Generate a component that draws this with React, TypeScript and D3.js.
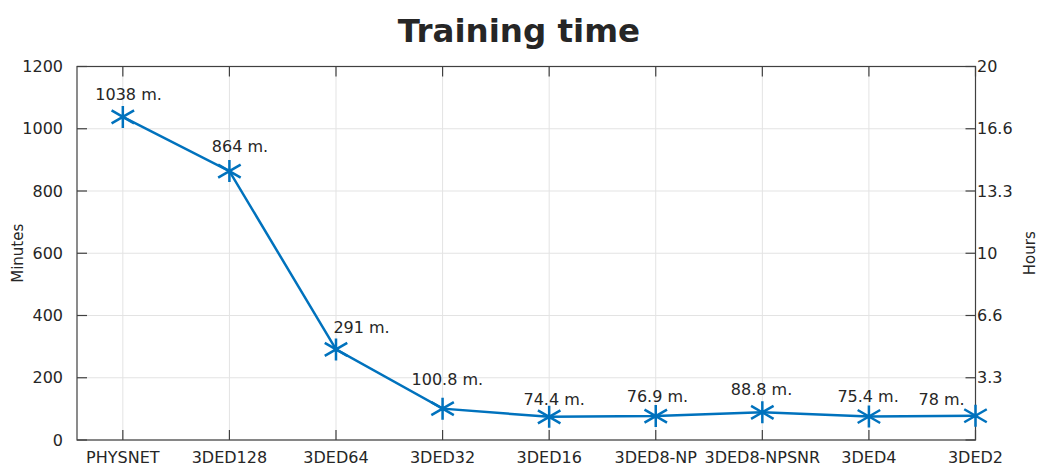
import React, { useEffect, useRef } from "react";
import * as d3 from "d3";

// data
const categories = [
  "PHYSNET",
  "3DED128",
  "3DED64",
  "3DED32",
  "3DED16",
  "3DED8-NP",
  "3DED8-NPSNR",
  "3DED4",
  "3DED2",
];
const minutes = [1038, 864, 291, 100.8, 74.4, 76.9, 88.8, 75.4, 78];
const pointLabels = ["1038 m.", "864 m.", "291 m.", "100.8 m.", "74.4 m.", "76.9 m.", "88.8 m.", "75.4 m.", "78 m."];
const minuteTicks = [0, 200, 400, 600, 800, 1000, 1200];
const hourTickLabels = ["3.3", "6.6", "10", "13.3", "16.6", "20"];

// label placement relative to each point (text start / baseline)
const labelOffsets: [number, number][] = [
  [-27.5, -17], [-17.6, -19], [-2.6, -16.6], [-31, -23.6], [-25.7, -11.8],
  [-29, -13.7], [-31.5, -17.4], [-31.5, -14.2], [-57, -10.7],
];

const W = 1038;
const H = 465;
const FONT = "'DejaVu Sans', Verdana, sans-serif";
const TXT = "#262626";
const AX = "#404040";
const BLUE = "#0072BD";

const App: React.FC = () => {
  const svgRef = useRef<SVGSVGElement>(null);

  useEffect(() => {
    if (!svgRef.current) return;
    const svg = d3.select(svgRef.current);
    svg.selectAll("*").remove();

    const left = 77, right = 975.5, top = 66.5, bottom = 440;

    const x = d3.scaleLinear().domain([0.57, 9]).range([left, right]);
    const y = d3.scaleLinear().domain([0, 1200]).range([bottom, top]);

    const g = svg.append("g");

    // grid
    g.selectAll(".vgrid")
      .data(categories)
      .enter().append("line")
      .attr("x1", (_, i) => x(i + 1)).attr("x2", (_, i) => x(i + 1))
      .attr("y1", top).attr("y2", bottom)
      .attr("stroke", "#e3e3e3").attr("stroke-width", 1);
    g.selectAll(".hgrid")
      .data(minuteTicks)
      .enter().append("line")
      .attr("x1", left).attr("x2", right)
      .attr("y1", d => y(d)).attr("y2", d => y(d))
      .attr("stroke", "#e3e3e3").attr("stroke-width", 1);

    // box
    g.append("rect")
      .attr("x", left).attr("y", top)
      .attr("width", right - left).attr("height", bottom - top)
      .attr("fill", "none").attr("stroke", AX).attr("stroke-width", 1.2);

    const tl = 10;
    // x ticks (bottom + top, inward)
    categories.forEach((_, i) => {
      const xx = x(i + 1);
      g.append("line").attr("x1", xx).attr("x2", xx).attr("y1", bottom).attr("y2", bottom - tl)
        .attr("stroke", AX).attr("stroke-width", 1.2);
      g.append("line").attr("x1", xx).attr("x2", xx).attr("y1", top).attr("y2", top + tl)
        .attr("stroke", AX).attr("stroke-width", 1.2);
    });
    // y ticks left and right
    minuteTicks.forEach(t => {
      g.append("line").attr("x1", left).attr("x2", left + tl).attr("y1", y(t)).attr("y2", y(t))
        .attr("stroke", AX).attr("stroke-width", 1.2);
      g.append("line").attr("x1", right).attr("x2", right - tl).attr("y1", y(t)).attr("y2", y(t))
        .attr("stroke", AX).attr("stroke-width", 1.2);
    });

    // x tick labels
    g.selectAll(".xl")
      .data(categories)
      .enter().append("text")
      .attr("x", (_, i) => x(i + 1))
      .attr("y", 463)
      .attr("text-anchor", "middle")
      .attr("font-family", FONT).attr("font-size", 16).attr("fill", TXT)
      .text(d => d);

    // left tick labels
    g.selectAll(".yl")
      .data(minuteTicks)
      .enter().append("text")
      .attr("x", 63)
      .attr("y", d => y(d) + 5.5)
      .attr("text-anchor", "end")
      .attr("font-family", FONT).attr("font-size", 16).attr("fill", TXT)
      .text(d => String(d));

    // right tick labels (hours)
    g.selectAll(".yr")
      .data(hourTickLabels)
      .enter().append("text")
      .attr("x", right + 1.5)
      .attr("y", (_, i) => y(minuteTicks[i + 1]) + 5.5)
      .attr("text-anchor", "start")
      .attr("font-family", FONT).attr("font-size", 16).attr("fill", TXT)
      .text(d => d);

    // axis titles
    g.append("text")
      .attr("transform", `translate(23,${(top + bottom) / 2}) rotate(-90)`)
      .attr("text-anchor", "middle")
      .attr("font-family", FONT).attr("font-size", 15).attr("fill", TXT)
      .text("Minutes");
    g.append("text")
      .attr("transform", `translate(1035,${(top + bottom) / 2}) rotate(-90)`)
      .attr("text-anchor", "middle")
      .attr("font-family", FONT).attr("font-size", 15).attr("fill", TXT)
      .text("Hours");

    // title
    g.append("text")
      .attr("x", 519).attr("y", 42)
      .attr("text-anchor", "middle")
      .attr("font-family", FONT).attr("font-size", 32.5).attr("font-weight", "bold")
      .attr("fill", TXT)
      .text("Training time");

    // line
    const line = d3.line<number>()
      .x((_, i) => x(i + 1))
      .y(d => y(d));
    g.append("path")
      .datum(minutes)
      .attr("d", line)
      .attr("fill", "none")
      .attr("stroke", BLUE)
      .attr("stroke-width", 2.5);

    // asterisk markers
    const armV = 11, armD = 13;
    const ca = Math.cos(Math.PI / 6), sa = Math.sin(Math.PI / 6);
    const star = `M0,${-armV}L0,${armV}` +
      `M${-armD * ca},${-armD * sa}L${armD * ca},${armD * sa}` +
      `M${-armD * ca},${armD * sa}L${armD * ca},${-armD * sa}`;
    g.selectAll(".mk")
      .data(minutes)
      .enter().append("path")
      .attr("transform", (d, i) => `translate(${x(i + 1)},${y(d)})`)
      .attr("d", star)
      .attr("fill", "none")
      .attr("stroke", BLUE)
      .attr("stroke-width", 2.5);

    // point labels
    g.selectAll(".pl")
      .data(minutes)
      .enter().append("text")
      .attr("x", (_, i) => x(i + 1) + labelOffsets[i][0])
      .attr("y", (d, i) => y(d) + labelOffsets[i][1])
      .attr("font-family", FONT).attr("font-size", 16).attr("fill", TXT)
      .text((_, i) => pointLabels[i]);
  }, []);

  return (
    <svg
      ref={svgRef}
      width={W}
      height={H}
      style={{ position: "absolute", left: 0, top: 0, background: "#fff" }}
    />
  );
};

export default App;
